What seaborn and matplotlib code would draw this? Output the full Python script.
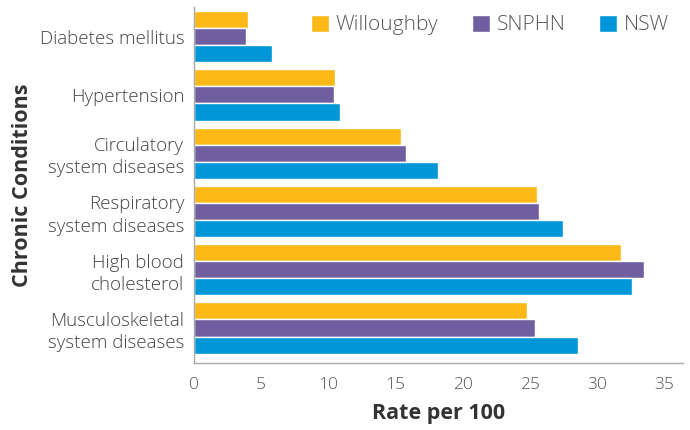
import pandas as pd
import seaborn as sns
import matplotlib.pyplot as plt

# chronic condition rates per 100
conditions = ['Diabetes mellitus', 'Hypertension', 'Circulatory\nsystem diseases',
              'Respiratory\nsystem diseases', 'High blood\ncholesterol',
              'Musculoskeletal\nsystem diseases']
willoughby = [4.0, 10.5, 15.4, 25.5, 31.8, 24.8]
snphn = [3.9, 10.4, 15.8, 25.7, 33.5, 25.4]
nsw = [5.8, 10.9, 18.2, 27.5, 32.6, 28.6]
regions = ['Willoughby', 'SNPHN', 'NSW']
colors = ['#FBB817', '#6F5FA0', '#0096D8']

df = pd.DataFrame({
    'condition': conditions * 3,
    'region': [r for r in regions for _ in conditions],
    'rate': willoughby + snphn + nsw,
})

sns.set_style('white')
plt.rcParams['font.family'] = ['Open Sans', 'DejaVu Sans']

fig = plt.figure(figsize=(6.9, 4.3), dpi=100)
ax = fig.add_axes([0.281, 0.156, 0.709, 0.828])

sns.barplot(data=df, y='condition', x='rate', hue='region', order=conditions,
            hue_order=regions, palette=colors, width=0.88, gap=0,
            saturation=1, orient='h', ax=ax)

ax.set_xlim(0, 36.4)
ax.set_ylim(5.6, -0.51)
ax.set_xticks(range(0, 36, 5))
ax.tick_params(axis='x', direction='out', length=4, color='#aaaaaa',
               labelsize=12.5, labelcolor='#555555', pad=6)
ax.tick_params(axis='y', length=0, labelsize=13.5, labelcolor='#444444', pad=7)
for lab in ax.get_xticklabels():
    lab.set_fontweight('light')
for lab in ax.get_yticklabels():
    lab.set_horizontalalignment('right')
    lab.set_linespacing(1.3)
    lab.set_fontweight('light')

sns.despine(ax=ax)
for s in ['left', 'bottom']:
    ax.spines[s].set_color('#aaaaaa')
    ax.spines[s].set_linewidth(1)

ax.set_xlabel('Rate per 100', fontsize=15.5, fontweight='bold', color='#333333', labelpad=7)
ax.set_ylabel('Chronic Conditions', fontsize=15.5, fontweight='bold', color='#333333', labelpad=5)

leg = ax.legend(loc='upper right', bbox_to_anchor=(1.01, 1.03), ncol=3, frameon=False,
                fontsize=15, handlelength=0.85, handleheight=0.85, handletextpad=0.35,
                columnspacing=1.6)
for t in leg.get_texts():
    t.set_color('#555555')
    t.set_fontweight('light')

fig.savefig('out.png', dpi=100)
